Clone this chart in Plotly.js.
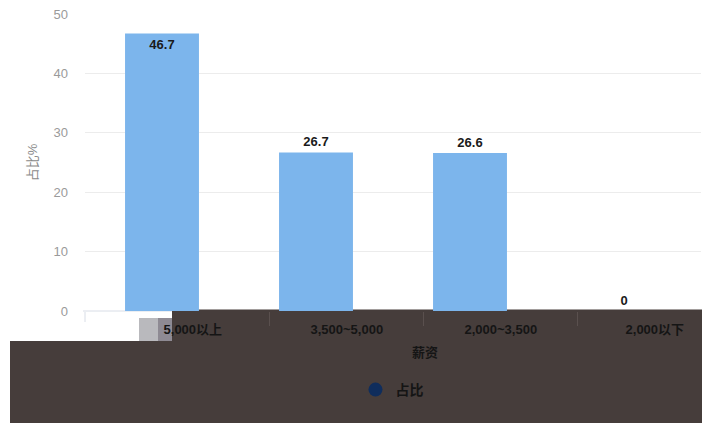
<!DOCTYPE html>
<html>
<head>
<meta charset="utf-8">
<script src="https://cdn.plot.ly/plotly-3.0.1.min.js"></script>
<style>html,body{margin:0;padding:0;background:#fff;}#chart{width:702px;height:423px;}</style>
</head>
<body>
<div id="chart"></div>
<script>
var categories = ["5,000以上", "3,500~5,000", "2,000~3,500", "2,000以下"];
var shareValues = [46.7, 26.7, 26.6, 0];
var valueLabels = ["46.7", "26.7", "26.6", "0"];
var seriesName = "占比";
var xTitle = "薪资";
var yTitle = "占比%";
var yTicks = [0, 10, 20, 30, 40, 50];

var W = 702, H = 423, ML = 85, MR = 1, MT = 14, MB = 112;
var PW = W - ML - MR, PH = H - MT - MB;
function px(x) { return (x - ML) / PW; }
function py(y) { return (H - MB - y) / PH; }

var FONT = "Liberation Sans, Noto Sans CJK SC, sans-serif";
var LBL = { family: FONT, size: 13, color: "#1a1a1a", weight: "bold" };

var bars = {
  type: "bar",
  x: categories,
  y: shareValues,
  text: valueLabels,
  textposition: ["inside", "outside", "outside", "outside"],
  insidetextanchor: "end",
  textfont: LBL,
  outsidetextfont: LBL,
  insidetextfont: LBL,
  textangle: 0,
  cliponaxis: false,
  marker: { color: "#7cb5ec", line: { width: 0 } },
  showlegend: false,
  hoverinfo: "none",
  xaxis: "x",
  yaxis: "y"
};

var legendTrace = {
  type: "scatter",
  mode: "markers",
  x: categories,
  y: categories.map(function () { return null; }),
  name: seriesName,
  marker: { color: "#0f2d5c", size: 14, symbol: "circle" },
  showlegend: true,
  hoverinfo: "none",
  xaxis: "x2",
  yaxis: "y"
};

var dark = "#463d3b";

var layout = {
  width: W, height: H,
  margin: { l: ML, r: MR, t: MT, b: MB, pad: 0 },
  paper_bgcolor: "#ffffff",
  plot_bgcolor: "rgba(0,0,0,0)",
  font: { family: FONT, size: 12, color: "#666" },
  bargap: 0.52,
  xaxis: {
    type: "category",
    categoryorder: "array",
    categoryarray: categories,
    range: [-0.5, 3.5],
    showticklabels: false,
    ticks: "",
    showgrid: false,
    zeroline: false,
    showline: false,
    fixedrange: true
  },
  xaxis2: {
    type: "category",
    categoryorder: "array",
    categoryarray: categories,
    overlaying: "x",
    anchor: "y",
    side: "bottom",
    range: [-0.7, 3.3],
    tickson: "boundaries",
    ticks: "outside",
    ticklen: 14,
    tickcolor: "#5a504e",
    tickfont: { family: FONT, size: 13, color: "#151515", weight: "bold" },
    ticklabelstandoff: 9,
    showgrid: false,
    zeroline: false,
    showline: false,
    fixedrange: true
  },
  yaxis: {
    range: [0, 50],
    tickvals: yTicks,
    ticks: "",
    ticklabelstandoff: 16,
    tickfont: { family: FONT, size: 13, color: "#9a9a9a" },
    showgrid: true,
    gridcolor: "#ececec",
    gridwidth: 1,
    zeroline: false,
    showline: false,
    title: { text: yTitle, standoff: 12, font: { family: FONT, size: 13, color: "#8a8a8a" } },
    fixedrange: true
  },
  shapes: [
    { type: "line", xref: "paper", yref: "paper", x0: px(83), x1: px(172), y0: 0, y1: 0,
      line: { color: "#d8dde6", width: 1 }, layer: "below" },
    { type: "rect", xref: "paper", yref: "paper", x0: px(10), x1: px(702), y0: py(423), y1: py(341),
      fillcolor: dark, line: { width: 0 }, layer: "below" },
    { type: "rect", xref: "paper", yref: "paper", x0: px(172), x1: px(702), y0: py(341), y1: py(309.5),
      fillcolor: dark, line: { width: 0 }, layer: "below" },
    { type: "rect", xref: "paper", yref: "paper", x0: px(100), x1: px(132), y0: py(330), y1: py(312),
      fillcolor: "#ffffff", line: { width: 0 }, layer: "above" },
    { type: "line", xref: "paper", yref: "paper", x0: px(85), x1: px(85), y0: py(312), y1: py(322),
      line: { color: "#d8dde6", width: 1 }, layer: "above" },
    { type: "rect", xref: "paper", yref: "paper", x0: px(139), x1: px(158), y0: py(341), y1: py(318),
      fillcolor: "#b9b9bd", line: { width: 0 }, layer: "below" },
    { type: "rect", xref: "paper", yref: "paper", x0: px(158), x1: px(172), y0: py(341), y1: py(318),
      fillcolor: "#8e8a93", line: { width: 0 }, layer: "below" }
  ],
  annotations: [
    { xref: "paper", yref: "paper", x: px(425), y: py(352), text: xTitle, showarrow: false,
      xanchor: "center", yanchor: "middle",
      font: { family: FONT, size: 13, color: "#151515", weight: "bold" } }
  ],
  legend: {
    orientation: "h",
    x: px(392), y: py(390),
    xanchor: "center", yanchor: "middle",
    bgcolor: "rgba(0,0,0,0)",
    font: { family: FONT, size: 14, color: "#151515", weight: "bold" },
    itemwidth: 30
  },
  showlegend: true
};

Plotly.newPlot("chart", [bars, legendTrace], layout, { displayModeBar: false, staticPlot: true });
</script>
</body>
</html>
